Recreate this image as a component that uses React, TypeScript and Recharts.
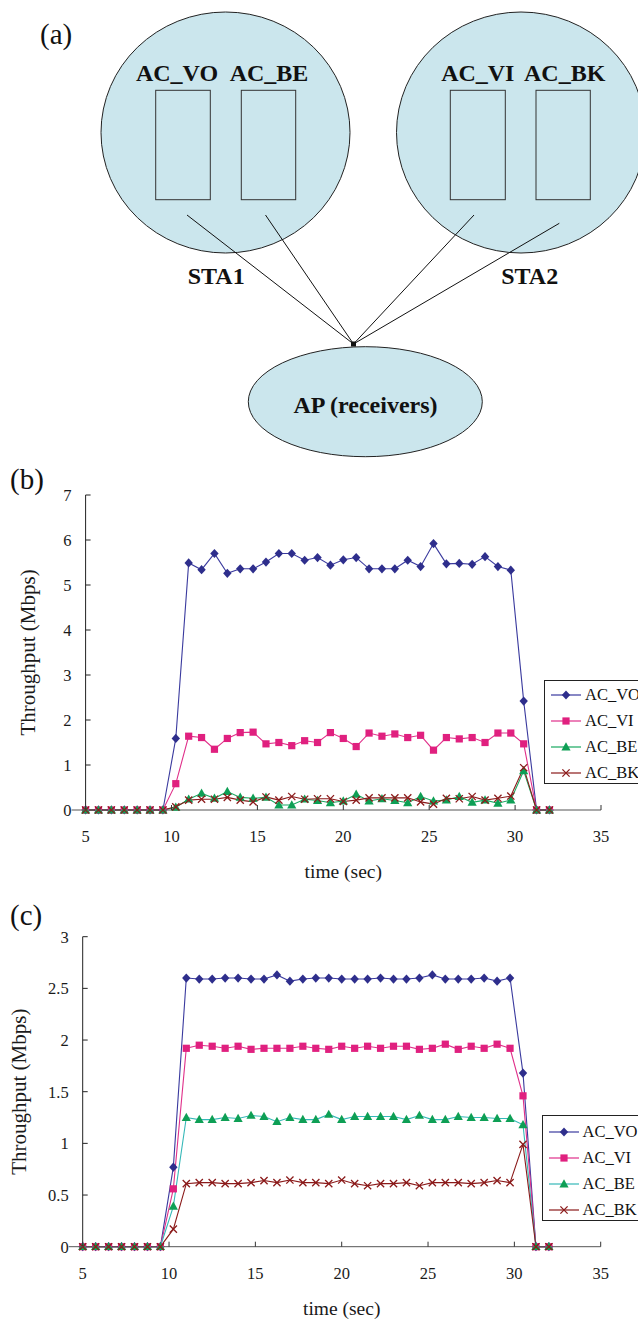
import React from 'react';
import { LineChart, Line, XAxis, YAxis, Legend, Surface } from 'recharts';

const FONT = '"Liberation Serif", "Times New Roman", serif';

// time (sec) of each sample
const TIME = [5, 5.75, 6.5, 7.25, 8, 8.75, 9.5, 10.25, 11, 11.75, 12.5, 13.25, 14, 14.75, 15.5, 16.25, 17, 17.75, 18.5, 19.25, 20, 20.75, 21.5, 22.25, 23, 23.75, 24.5, 25.25, 26, 26.75, 27.5, 28.25, 29, 29.75, 30.5, 31.25, 32];

const SERIES = ['AC_VO', 'AC_VI', 'AC_BE', 'AC_BK'];

// panel (b)
const VO_B = [0, 0, 0, 0, 0, 0, 0, 1.59, 5.49, 5.34, 5.7, 5.26, 5.36, 5.36, 5.51, 5.7, 5.7, 5.55, 5.61, 5.44, 5.56, 5.61, 5.36, 5.36, 5.36, 5.55, 5.41, 5.92, 5.47, 5.48, 5.46, 5.63, 5.41, 5.33, 2.42, 0, 0];
const VI_B = [0, 0, 0, 0, 0, 0, 0, 0.585, 1.64, 1.61, 1.35, 1.59, 1.72, 1.73, 1.47, 1.5, 1.43, 1.54, 1.5, 1.72, 1.59, 1.41, 1.71, 1.64, 1.69, 1.61, 1.66, 1.33, 1.61, 1.58, 1.61, 1.5, 1.71, 1.71, 1.47, 0, 0];
const BE_B = [0, 0, 0, 0, 0, 0, 0, 0.06, 0.24, 0.37, 0.26, 0.41, 0.28, 0.26, 0.28, 0.11, 0.11, 0.24, 0.21, 0.16, 0.2, 0.35, 0.2, 0.25, 0.21, 0.16, 0.3, 0.2, 0.22, 0.3, 0.17, 0.22, 0.15, 0.22, 0.87, 0, 0];
const BK_B = [0, 0, 0, 0, 0, 0, 0, 0.07, 0.22, 0.24, 0.24, 0.28, 0.22, 0.18, 0.29, 0.22, 0.3, 0.24, 0.25, 0.25, 0.19, 0.22, 0.27, 0.27, 0.27, 0.27, 0.18, 0.13, 0.26, 0.25, 0.3, 0.22, 0.26, 0.31, 0.94, 0, 0];

// panel (c)
const VO_C = [0, 0, 0, 0, 0, 0, 0, 0.77, 2.6, 2.59, 2.59, 2.6, 2.6, 2.59, 2.59, 2.63, 2.57, 2.59, 2.6, 2.6, 2.59, 2.59, 2.59, 2.6, 2.59, 2.59, 2.6, 2.63, 2.59, 2.59, 2.59, 2.6, 2.57, 2.6, 1.68, 0, 0];
const VI_C = [0, 0, 0, 0, 0, 0, 0, 0.56, 1.92, 1.95, 1.94, 1.92, 1.94, 1.91, 1.92, 1.92, 1.92, 1.94, 1.92, 1.91, 1.94, 1.92, 1.94, 1.92, 1.94, 1.94, 1.91, 1.92, 1.96, 1.91, 1.94, 1.92, 1.96, 1.92, 1.46, 0, 0];
const BE_C = [0, 0, 0, 0, 0, 0, 0, 0.39, 1.25, 1.23, 1.23, 1.25, 1.24, 1.27, 1.26, 1.21, 1.25, 1.23, 1.23, 1.28, 1.23, 1.26, 1.26, 1.26, 1.26, 1.23, 1.27, 1.23, 1.23, 1.26, 1.25, 1.25, 1.24, 1.24, 1.18, 0, 0];
const BK_C = [0, 0, 0, 0, 0, 0, 0, 0.17, 0.61, 0.62, 0.62, 0.61, 0.61, 0.62, 0.64, 0.62, 0.645, 0.62, 0.62, 0.61, 0.645, 0.61, 0.59, 0.61, 0.61, 0.62, 0.59, 0.62, 0.62, 0.62, 0.61, 0.62, 0.64, 0.62, 0.99, 0, 0];

const X_TICKS = [5, 10, 15, 20, 25, 30, 35];
const Y_TICKS_B = [0, 1, 2, 3, 4, 5, 6, 7];
const Y_TICKS_C = [0, 0.5, 1, 1.5, 2, 2.5, 3];

const DATA_B = TIME.map((t, i) => ({ t, AC_VO: VO_B[i], AC_VI: VI_B[i], AC_BE: BE_B[i], AC_BK: BK_B[i] }));
const DATA_C = TIME.map((t, i) => ({ t, AC_VO: VO_C[i], AC_VI: VI_C[i], AC_BE: BE_C[i], AC_BK: BK_C[i] }));

const SHAPES: Record<string, string> = { AC_VO: 'diamond', AC_VI: 'square', AC_BE: 'triangle', AC_BK: 'x' };
const MARK_COLORS: Record<string, string> = { AC_VO: '#2E2E8C', AC_VI: '#E0207F', AC_BE: '#0E9F55', AC_BK: '#8B1A1A' };
const LINE_COLORS_B: Record<string, string> = { AC_VO: '#3A3A9E', AC_VI: '#E0308A', AC_BE: '#18A860', AC_BK: '#8B1A1A' };
const LINE_COLORS_C: Record<string, string> = { AC_VO: '#3A3A9E', AC_VI: '#E0308A', AC_BE: '#35B8B8', AC_BK: '#8B1A1A' };

function Marker({ shape, cx, cy, color }: any) {
  if (cx == null || cy == null) return null;
  if (shape === 'diamond')
    return <path d={`M${cx},${cy - 4.6}L${cx + 4.2},${cy}L${cx},${cy + 4.6}L${cx - 4.2},${cy}Z`} fill={color} />;
  if (shape === 'square') return <rect x={cx - 3.6} y={cy - 3.6} width={7.2} height={7.2} fill={color} />;
  if (shape === 'triangle')
    return <path d={`M${cx},${cy - 4.8}L${cx + 4.6},${cy + 3.4}L${cx - 4.6},${cy + 3.4}Z`} fill={color} />;
  return (
    <path
      d={`M${cx - 3.6},${cy - 3.6}L${cx + 3.6},${cy + 3.6}M${cx - 3.6},${cy + 3.6}L${cx + 3.6},${cy - 3.6}`}
      stroke={color}
      strokeWidth={1.3}
      fill="none"
    />
  );
}

const makeDot = (name: string) => (p: any) => (
  <Marker key={`${name}-${p.index}`} shape={SHAPES[name]} cx={p.cx} cy={p.cy} color={MARK_COLORS[name]} />
);

const XTick = (props: any) => {
  const { x, y, payload } = props;
  return (
    <g>
      <line x1={x} y1={y} x2={x} y2={y - 5} stroke="#333" strokeWidth={1} />
      <text x={x} y={y + 32} textAnchor="middle" fontSize={16.5} fontFamily={FONT} fill="#1a1a1a">
        {payload.value}
      </text>
    </g>
  );
};

const YTick = (props: any) => {
  const { x, y, payload } = props;
  return (
    <g>
      {payload.value === 0 ? (
        <line x1={x - 14} y1={y} x2={x} y2={y} stroke="#555" strokeWidth={1} />
      ) : (
        <line x1={x} y1={y} x2={x + 5} y2={y} stroke="#222" strokeWidth={1} />
      )}
      <text x={x - 14} y={y} dy="0.36em" textAnchor="end" fontSize={16.5} fontFamily={FONT} fill="#1a1a1a">
        {payload.value}
      </text>
    </g>
  );
};

const XTitle = (props: any) => {
  const vb = props.viewBox || {};
  return (
    <text x={vb.x + vb.width / 2} y={vb.y + 68} textAnchor="middle" fontSize={19.5} fontFamily={FONT} fill="#1a1a1a">
      time (sec)
    </text>
  );
};

const makeYTitle = (gap: number) => (props: any) => {
  const vb = props.viewBox || {};
  const cx = vb.x + vb.width - gap;
  const cy = vb.y + vb.height / 2;
  return (
    <text
      x={cx}
      y={cy}
      transform={`rotate(-90 ${cx} ${cy})`}
      textAnchor="middle"
      fontSize={21}
      fontFamily={FONT}
      fill="#1a1a1a"
    >
      Throughput (Mbps)
    </text>
  );
};

const makeLegend = (lineColors: Record<string, string>, rowTop: number, rowGap: number, height: number) => (props: any) => {
  const payload = (props.payload || []).slice().sort(
    (a: any, b: any) => SERIES.indexOf(a.dataKey) - SERIES.indexOf(b.dataKey)
  );
  return (
    <div
      style={{
        position: 'relative',
        width: 130,
        height,
        border: '1px solid #222',
        boxSizing: 'border-box',
        background: '#fff',
        fontFamily: FONT,
        fontSize: 16.5,
        color: '#111',
      }}
    >
      {payload.map((e: any, i: number) => {
        const key = e.dataKey as string;
        return (
          <div
            key={key}
            style={{ position: 'absolute', left: 0, top: rowTop + rowGap * i - 10, height: 20, display: 'flex', alignItems: 'center' }}
          >
            <svg width={40} height={20} style={{ display: 'block' }}>
              <line x1={6} y1={10} x2={36} y2={10} stroke={lineColors[key]} strokeWidth={1.2} />
              <Marker shape={SHAPES[key]} cx={21} cy={10} color={MARK_COLORS[key]} />
            </svg>
            <span style={{ lineHeight: '20px', whiteSpace: 'nowrap' }}>{e.value}</span>
          </div>
        );
      })}
    </div>
  );
};

function Panel({ data, yTicks, yMax, lineColors, margin, xHeight, titleGap, legendPos, legendRow }: any) {
  return (
    <LineChart width={638} height={420} data={data} margin={margin}>
      <XAxis
        type="number"
        dataKey="t"
        domain={[5, 35]}
        ticks={X_TICKS}
        interval={0}
        height={xHeight}
        tickSize={0}
        tickMargin={0}
        tickLine={false}
        axisLine={{ stroke: '#555', strokeWidth: 1 }}
        tick={<XTick />}
        label={<XTitle />}
      />
      <YAxis
        type="number"
        domain={[0, yMax]}
        ticks={yTicks}
        interval={0}
        width={60}
        tickSize={0}
        tickMargin={0}
        tickLine={false}
        axisLine={{ stroke: '#222', strokeWidth: 1 }}
        tick={<YTick />}
        label={makeYTitle(titleGap)}
      />
      <Legend
        layout="horizontal"
        align="center"
        verticalAlign="middle"
        content={makeLegend(lineColors, legendRow[0], legendRow[1], legendRow[2])}
        wrapperStyle={{ position: 'absolute', left: legendPos[0], top: legendPos[1], width: 130, height: legendRow[2] }}
      />
      {SERIES.map((name) => (
        <Line
          key={name}
          type="linear"
          dataKey={name}
          name={name}
          stroke={lineColors[name]}
          strokeWidth={1.1}
          dot={makeDot(name)}
          activeDot={false}
          isAnimationActive={false}
        />
      ))}
    </LineChart>
  );
}

function Diagram() {
  const fill = '#CBE6ED';
  const bold = { fontFamily: FONT, fontWeight: 700, fontSize: 24, fill: '#111' } as any;
  return (
    <Surface width={638} height={470} viewBox={{ x: 0, y: 0, width: 638, height: 470 }}>
      <text x={40} y={44} fontFamily={FONT} fontSize={29} fill="#111">
        (a)
      </text>
      <ellipse cx={225.5} cy={132.5} rx={124.5} ry={120.5} fill={fill} stroke="#222" strokeWidth={1} />
      <ellipse cx={521} cy={132.5} rx={124.5} ry={120.5} fill={fill} stroke="#222" strokeWidth={1} />
      <rect x={155.7} y={90.3} width={54.6} height={109.4} fill="none" stroke="#333" strokeWidth={1} />
      <rect x={241.3} y={90.3} width={54.4} height={109.4} fill="none" stroke="#333" strokeWidth={1} />
      <rect x={450.3} y={90.3} width={55} height={109.4} fill="none" stroke="#333" strokeWidth={1} />
      <rect x={536} y={90.3} width={54.3} height={109.4} fill="none" stroke="#333" strokeWidth={1} />
      <text x={177} y={81} textAnchor="middle" {...bold}>AC_VO</text>
      <text x={269} y={81} textAnchor="middle" {...bold}>AC_BE</text>
      <text x={477.8} y={81} textAnchor="middle" {...bold}>AC_VI</text>
      <text x={564.7} y={81} textAnchor="middle" {...bold}>AC_BK</text>
      <text x={216.2} y={284} textAnchor="middle" {...bold}>STA1</text>
      <text x={529.7} y={284} textAnchor="middle" {...bold}>STA2</text>
      <line x1={187} y1={215} x2={353.5} y2={344} stroke="#111" strokeWidth={1} />
      <line x1={265.5} y1={215} x2={353.5} y2={344} stroke="#111" strokeWidth={1} />
      <line x1={474} y1={215} x2={353.5} y2={344} stroke="#111" strokeWidth={1} />
      <line x1={559.3} y1={223.3} x2={353.5} y2={344} stroke="#111" strokeWidth={1} />
      <ellipse cx={365.3} cy={401.7} rx={117} ry={55} fill={fill} stroke="#222" strokeWidth={1} />
      <rect x={351} y={341.5} width={5} height={5} fill="#111" />
      <text x={365.5} y={412.7} textAnchor="middle" {...bold}>AP (receivers)</text>
    </Surface>
  );
}

export default function App() {
  return (
    <div
      style={{
        position: 'absolute',
        left: 0,
        top: 0,
        width: 638,
        height: 1320,
        overflow: 'hidden',
        background: '#fff',
        fontFamily: FONT,
      }}
    >
      <div style={{ position: 'absolute', left: 0, top: 0 }}>
        <Diagram />
      </div>
      <div style={{ position: 'absolute', left: 0, top: 470 }}>
        <Panel
          data={DATA_B}
          yTicks={Y_TICKS_B}
          yMax={7}
          lineColors={LINE_COLORS_B}
          margin={{ top: 25, right: 37, bottom: 0, left: 25.6 }}
          xHeight={80}
          titleGap={51}
          legendPos={[544, 209.5]}
          legendRow={[14.3, 25.9, 104]}
        />
      </div>
      <div style={{ position: 'absolute', left: 0, top: 900 }}>
        <Panel
          data={DATA_C}
          yTicks={Y_TICKS_C}
          yMax={3}
          lineColors={LINE_COLORS_C}
          margin={{ top: 36.7, right: 37.3, bottom: 0, left: 22.7 }}
          xHeight={73.3}
          titleGap={56.5}
          legendPos={[541.5, 215]}
          legendRow={[15.7, 26.1, 106]}
        />
      </div>
      <div style={{ position: 'absolute', left: 10, top: 462, fontSize: 29, fontFamily: FONT, color: '#111', lineHeight: '34px' }}>(b)</div>
      <div style={{ position: 'absolute', left: 10, top: 898, fontSize: 29, fontFamily: FONT, color: '#111', lineHeight: '34px' }}>(c)</div>
    </div>
  );
}
